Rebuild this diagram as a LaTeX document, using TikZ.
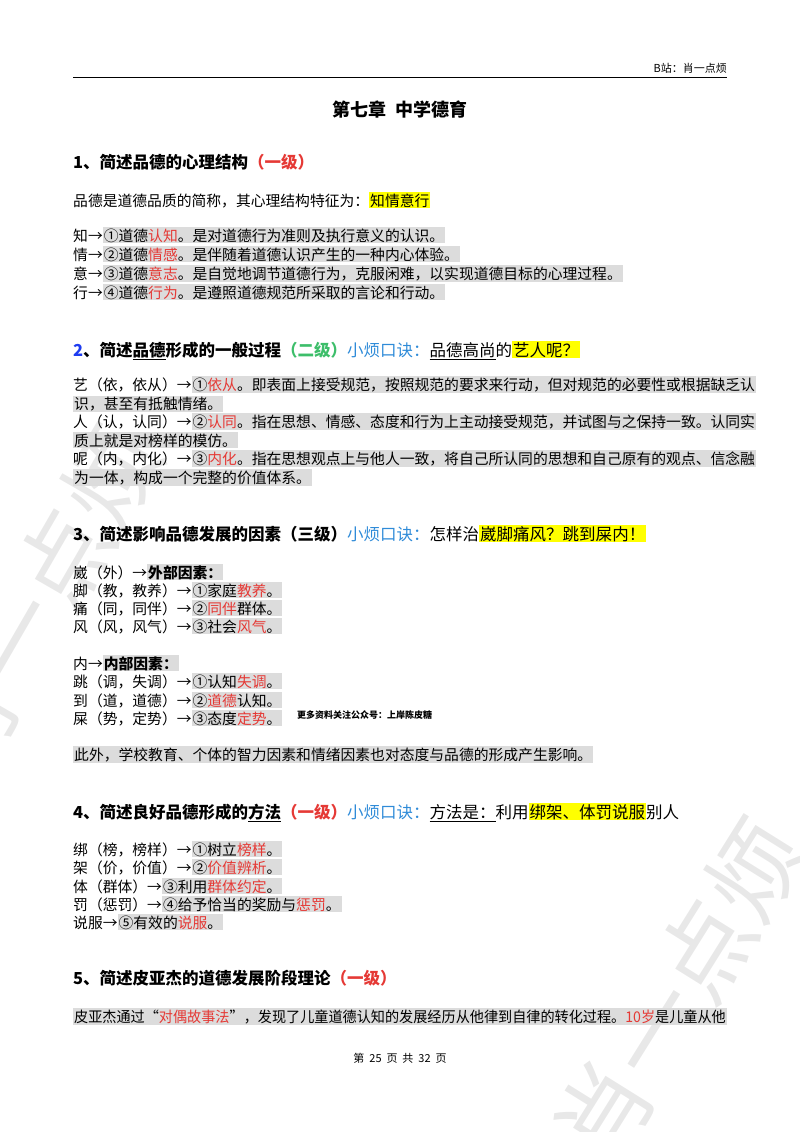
\documentclass[tikz,border=0pt]{standalone}
\usepackage{fontspec}
\setmainfont{Noto Sans CJK SC}
\definecolor{rd}{HTML}{E53935}
\definecolor{bl}{HTML}{2F8BD8}
\definecolor{bl2}{HTML}{1E3CF0}
\definecolor{gr}{HTML}{3DBE6A}
\definecolor{hlg}{HTML}{DCDCDC}
\definecolor{hly}{HTML}{FFFF00}
\newcommand\hg[1]{{\setlength\fboxsep{1pt}\colorbox{hlg}{\vphantom{国}#1}}}
\newcommand\hy[1]{{\setlength\fboxsep{1pt}\colorbox{hly}{\vphantom{国}#1}}}
\newcommand\rr[1]{\textcolor{rd}{#1}}
\tikzset{
 tx/.style={anchor=base west,inner sep=0pt,font=\fontsize{14.8}{18}\selectfont},
 hd/.style={anchor=base west,inner sep=0pt,font=\fontsize{16.5}{20}\selectfont\bfseries},
 wm/.style={text=black!9,font=\fontsize{95}{95}\selectfont,inner sep=0pt}
}
\begin{document}
\begin{tikzpicture}[x=1pt,y=-1pt]
\useasboundingbox (0,0) rectangle (800,1132);
% watermarks
\node[wm,rotate=60] (w1) at (40,600) {肖一点烦};
\node[wm,rotate=58] (w2) at (680,990) {肖一点烦};
% header
\node[anchor=base east,inner sep=0pt,font=\fontsize{11}{13}\selectfont] (hdr) at (727,72) {B站：肖一点烦};
\draw[line width=0.6pt] (73,77) coordinate (l1) -- (727,77) coordinate (l2);
\node[inner sep=0pt,font=\fontsize{18}{22}\selectfont\bfseries] (title) at (400,110) {第七章\ \ 中学德育};
% section 1
\node[hd] (s1) at (73,168) {1、简述品德的心理结构\textcolor{rd}{（一级）}};
\node[tx] (p1) at (73,206) {品德是道德品质的简称，其心理结构特征为：\hy{知情意行}};
\node[tx] (a1) at (73,241) {知→\hg{①道德\rr{认知}。是对道德行为准则及执行意义的认识。}};
\node[tx] (a2) at (73,260) {情→\hg{②道德\rr{情感}。是伴随着道德认识产生的一种内心体验。}};
\node[tx] (a3) at (73,279) {意→\hg{③道德\rr{意志}。是自觉地调节道德行为，克服闲难，以实现道德目标的心理过程。}};
\node[tx] (a4) at (73,298) {行→\hg{④道德\rr{行为}。是遵照道德规范所采取的言论和行动。}};
% section 2
\node[hd] (s2) at (73,356) {\textcolor{bl2}{2}、简述\underline{品德}形成的一般过程\textcolor{gr}{（二级）}\textcolor{bl}{\mdseries 小烦口诀：}\mdseries\underline{品德高尚}的\hy{艺人呢？}};
\node[tx] (b1) at (73,390) {艺（依，依从）→\hg{①\rr{依从}。即表面上接受规范，按照规范的要求来行动，但对规范的必要性或根据缺乏认}};
\node[tx] (b2) at (73,409) {\hg{识，甚至有抵触情绪。}};
\node[tx] (b3) at (73,427) {人（认，认同）→\hg{②\rr{认同}。指在思想、情感、态度和行为上主动接受规范，并试图与之保持一致。认同实}};
\node[tx] (b4) at (73,446) {\hg{质上就是对榜样的模仿。}};
\node[tx] (b5) at (73,464) {呢（内，内化）→\hg{③\rr{内化}。指在思想观点上与他人一致，将自己所认同的思想和自己原有的观点、信念融}};
\node[tx] (b6) at (73,483) {\hg{为一体，构成一个完整的价值体系。}};
% section 3
\node[hd] (s3) at (73,540) {3、简述影响品德发展的因素（三级）\textcolor{bl}{\mdseries 小烦口诀：}\mdseries 怎样治\hy{崴脚痛风？跳到屎内！}};
\node[tx] (c0) at (73,578) {崴（外）→\hg{\bfseries 外部因素：}};
\node[tx] (c1) at (73,596) {脚（教，教养）→\hg{①家庭\rr{教养}。}};
\node[tx] (c2) at (73,614) {痛（同，同伴）→\hg{②\rr{同伴}群体。}};
\node[tx] (c3) at (73,632) {风（风，风气）→\hg{③社会\rr{风气}。}};
\node[tx] (d0) at (73,669) {内→\hg{\bfseries 内部因素：}};
\node[tx] (d1) at (73,687) {跳（调，失调）→\hg{①认知\rr{失调}。}};
\node[tx] (d2) at (73,706) {到（道，道德）→\hg{②\rr{道德}认知。}};
\node[tx] (d3) at (73,724) {屎（势，定势）→\hg{③态度\rr{定势}。}};
\node[anchor=base west,inner sep=0pt,font=\fontsize{9}{11}\selectfont\bfseries] (wmk) at (297,718) {更多资料关注公众号：上岸陈皮糖};
\node[tx] (d4) at (73,760) {\hg{此外，学校教育、个体的智力因素和情绪因素也对态度与品德的形成产生影响。}};
% section 4
\node[hd] (s4) at (73,818) {4、简述良好品德形成的\underline{方法}\textcolor{rd}{（一级）}\textcolor{bl}{\mdseries 小烦口诀：}\mdseries\underline{方法是：}利用\hy{绑架、体罚说服}别人};
\node[tx] (e1) at (73,855) {绑（榜，榜样）→\hg{①树立\rr{榜样}。}};
\node[tx] (e2) at (73,873) {架（价，价值）→\hg{②\rr{价值辨析}。}};
\node[tx] (e3) at (73,892) {体（群体）→\hg{③利用\rr{群体约定}。}};
\node[tx] (e4) at (73,910) {罚（惩罚）→\hg{④给予恰当的奖励与\rr{惩罚}。}};
\node[tx] (e5) at (73,928) {说服→\hg{⑤有效的\rr{说服}。}};
% section 5
\node[hd] (s5) at (73,984) {5、简述皮亚杰的道德发展阶段理论\textcolor{rd}{（一级）}};
\node[tx,transform shape,xscale=0.955] (f1) at (73,1022) {\hg{皮亚杰通过“\rr{对偶故事法}”，发现了儿童道德认知的发展经历从他律到自律的转化过程。\rr{10岁}是儿童从他}};
% footer
\node[inner sep=0pt,font=\fontsize{11}{13}\selectfont] (ft) at (400,1058) {第\ \ 25\ \ 页\ \ 共\ \ 32\ \ 页};
\end{tikzpicture}
\end{document}
